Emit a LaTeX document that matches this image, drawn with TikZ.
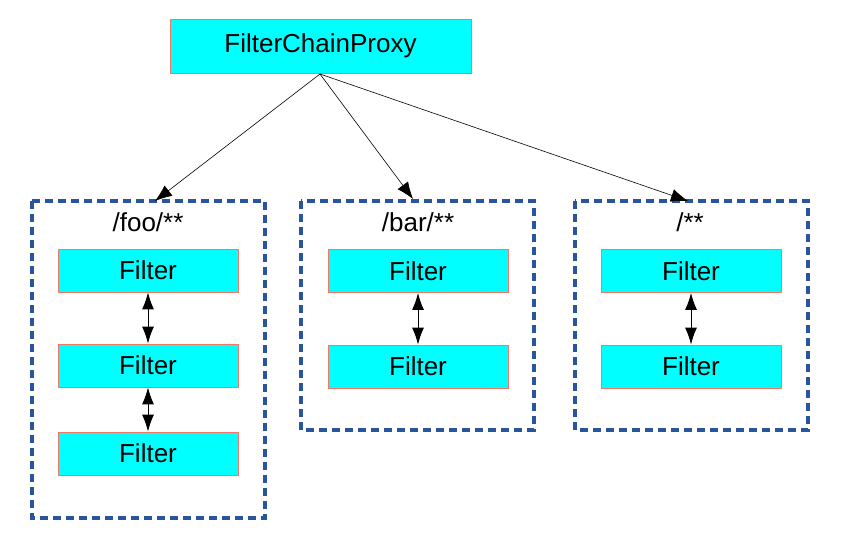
\documentclass[tikz,border=0pt]{standalone}
\usepackage{fontspec}
\setmainfont{Liberation Sans}
\usetikzlibrary{arrows.meta}
\definecolor{boxred}{RGB}{240,120,100}
\definecolor{boxcyan}{RGB}{0,255,255}
\definecolor{dashblue}{RGB}{40,85,155}
\begin{document}
\begin{tikzpicture}[x=1pt,y=-1pt,
  fbox/.style={draw=boxred,line width=0.8pt,fill=boxcyan,minimum width=180pt,minimum height=43pt,inner sep=0pt,font=\fontsize{26}{28}\selectfont},
  group/.style={draw=dashblue,line width=3.4pt,dash pattern=on 8pt off 5pt},
  lbl/.style={font=\fontsize{26}{28}\selectfont,inner sep=0pt},
  conn/.style={line width=0.6pt,-{Latex[length=17pt,width=13pt]}},
  dbl/.style={line width=1pt,{Latex[length=17pt,width=12pt]}-{Latex[length=17pt,width=12pt]}}]
\useasboundingbox (0,0) rectangle (845,537);
\node[fbox,minimum width=301pt,minimum height=54pt] (fcp) at (320.5,46) {FilterChainProxy};
% groups
\draw[group] (32,201) rectangle (265,518);
\draw[group] (301,201) rectangle (534,430);
\draw[group] (575,201) rectangle (808,430);
\coordinate (g1) at (155,201);
\coordinate (g2) at (413,199);
\coordinate (g3) at (688,201);
\node[lbl] (l1) at (148,222) {/foo/**};
\node[lbl] (l2) at (418,222) {/bar/**};
\node[lbl] (l3) at (690,222) {/**};
% filters
\node[fbox] (a1) at (148,270.5) {Filter};
\node[fbox] (a2) at (148,365.5) {Filter};
\node[fbox] (a3) at (148,453.5) {Filter};
\node[fbox] (b1) at (418,271) {Filter};
\node[fbox] (b2) at (418,366.5) {Filter};
\node[fbox] (c1) at (691,271) {Filter};
\node[fbox] (c2) at (691,366.5) {Filter};
% connectors
\coordinate (src) at (320,74);
\draw[conn] (src) -- (g1);
\draw[conn] (src) -- (g2);
\draw[conn] (src) -- (g3);
\draw[dbl] (a1) -- (a2);
\draw[dbl] (a2) -- (a3);
\draw[dbl] (b1) -- (b2);
\draw[dbl] (c1) -- (c2);
\end{tikzpicture}
\end{document}
